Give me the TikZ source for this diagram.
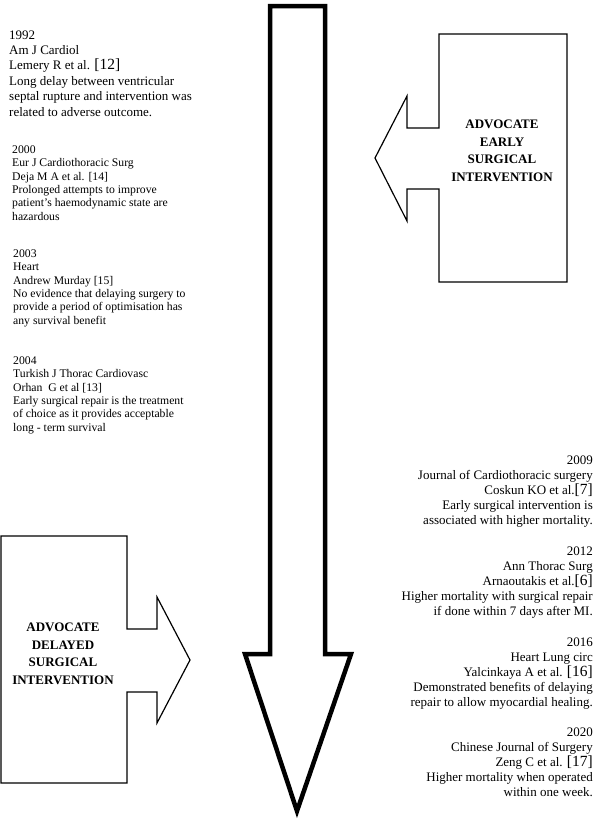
\documentclass[tikz,border=0pt]{standalone}
\usepackage{fontspec}
\setmainfont{Liberation Serif}
\newcommand{\refno}[1]{{\fontsize{15.5}{15.5}\selectfont[#1]}}

\begin{document}
\begin{tikzpicture}[
        x=1pt, y=-1pt,
        entry/.style={inner sep=0pt, anchor=base west, align=left, font=\fontsize{11.7}{13.3}\selectfont},
        entryr/.style={inner sep=0pt, anchor=base east, align=right, font=\fontsize{13}{15}\selectfont},
        callout/.style={draw, line width=1.2pt, line join=miter},
        calltext/.style={inner sep=0pt, align=center, font=\bfseries\fontsize{13}{17.5}\selectfont},
        timeline/.style={draw, line width=4.5pt, line join=miter}
    ]
        \useasboundingbox (0,0) rectangle (600,822);

        % Time arrow
        \draw[timeline] (270,6) -- (325,6) -- (325,654) -- (351,654) -- (297,811) -- (245,654) -- (270,654) -- cycle;

        % Early intervention: callout and studies (nodes placed by their last baseline)
        \draw[callout] (439,34) -- (567,34) -- (567,282) -- (439,282) -- (439,189) -- (407,189) -- (407,221)
            -- (375,158) -- (407,96) -- (407,128) -- (439,128) -- cycle;
        \node[calltext] (early) at (502,151) {ADVOCATE\\EARLY\\SURGICAL\\INTERVENTION};

        \node[entry, font=\fontsize{13}{15.4}\selectfont] (s1992) at (9,116) {1992\\Am J Cardiol\\Lemery R et al. \refno{12}\\Long delay between ventricular\\septal rupture and intervention was\\related to adverse outcome.};
        \node[entry] (s2000) at (12,220) {2000\\Eur J Cardiothoracic Surg\\Deja M A et al. [14]\\Prolonged attempts to improve\\patient's haemodynamic state are\\hazardous};
        \node[entry] (s2003) at (13,324) {2003\\Heart\\Andrew Murday [15]\\No evidence that delaying surgery to\\provide a period of optimisation has\\any survival benefit};
        \node[entry] (s2004) at (13,431) {2004\\Turkish J Thorac Cardiovasc\\Orhan\ \ G et al [13]\\Early surgical repair is the treatment\\of choice as it provides acceptable\\long - term survival};

        % Delayed intervention: callout and studies
        \draw[callout] (1,536) -- (127,536) -- (127,629) -- (157,629) -- (157,597) -- (190,660) -- (157,723)
            -- (157,692) -- (127,692) -- (127,783) -- (1,783) -- cycle;
        \node[calltext] (delayed) at (63,654) {ADVOCATE\\DELAYED\\SURGICAL\\INTERVENTION};

        \node[entryr] (s2009) at (593,524) {2009\\Journal of Cardiothoracic surgery\\Coskun KO et al.\refno{7}\\Early surgical intervention is\\associated with higher mortality.};
        \node[entryr] (s2012) at (593,615) {2012\\Ann Thorac Surg\\Arnaoutakis et al.\refno{6}\\Higher mortality with surgical repair\\if done within 7 days after MI.};
        \node[entryr] (s2016) at (593,706) {2016\\Heart Lung circ\\Yalcinkaya A et al. \refno{16}\\Demonstrated benefits of delaying\\repair to allow myocardial healing.};
        \node[entryr] (s2020) at (593,796) {2020\\Chinese Journal of Surgery\\Zeng C et al. \refno{17}\\Higher mortality when operated\\within one week.};

    \end{tikzpicture}
\end{document}
